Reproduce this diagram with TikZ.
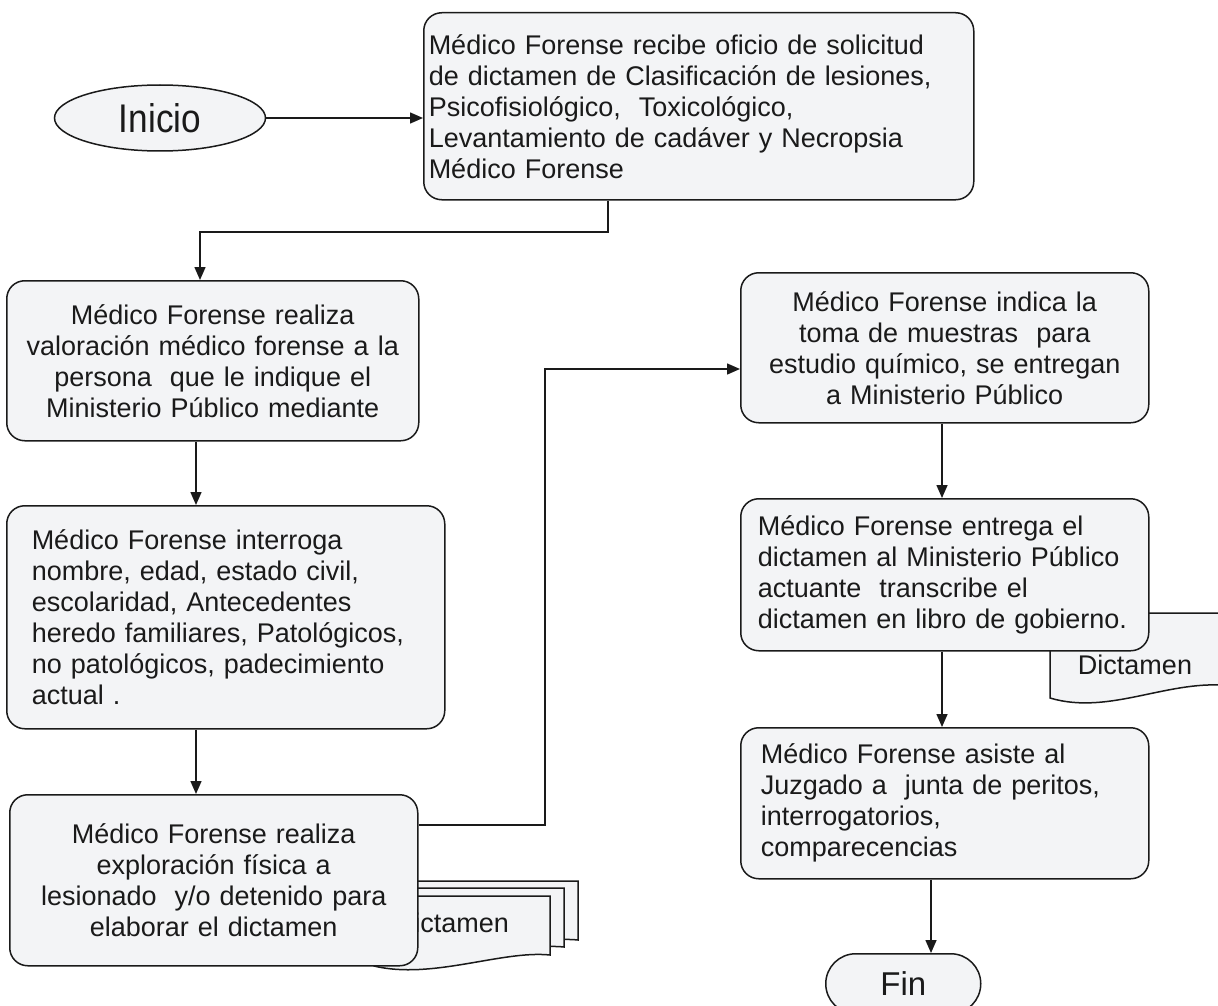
\documentclass[tikz,border=0pt]{standalone}
\usepackage{fontspec}
\usepackage{graphicx}
\setmainfont{Liberation Sans}
\usetikzlibrary{arrows.meta,shapes.geometric,calc}
\definecolor{boxfill}{HTML}{F3F4F6}
\definecolor{ink}{HTML}{1A1A1A}
\begin{document}
\begin{tikzpicture}[x=1pt,y=-1pt,
  every node/.style={font=\fontsize{27}{31}\selectfont, text=ink},
  procbox/.style={draw=ink, line width=1.5pt, fill=boxfill, rounded corners=18pt,
    anchor=north west, inner ysep=0pt},
  docshape/.style={draw=ink, line width=1.5pt, fill=boxfill},
  arr/.style={draw=ink, line width=1.5pt, -{Triangle[length=13pt,width=11pt]}}]
\fill[white] (0,0) rectangle (1218,1006);
\useasboundingbox (0,0) rectangle (1218,1006);

% documents drawn first (behind boxes)
\draw[docshape] (402,881) -- (578,881) -- (578,940) .. controls (530,935) and (460,965) .. (402,951) -- cycle;
\draw[docshape] (388,888) -- (564,888) -- (564,947) .. controls (516,942) and (446,972) .. (388,958) -- cycle;
\draw[docshape] (374,896) -- (550,896) -- (550,955) .. controls (502,950) and (432,980) .. (374,966) -- cycle;
\node (dictA) at (452,923) {Dictamen};

\draw[docshape] (1050,613) -- (1232,613) -- (1232,686) .. controls (1170,678) and (1110,716) .. (1050,698) -- cycle;
\node (dictB) at (1135,665) {Dictamen};

% start / end
\node[ellipse, draw=ink, line width=1.5pt, fill=boxfill, minimum width=211pt, minimum height=66pt, inner sep=0pt,
  font=\fontsize{40}{44}\selectfont] (ini) at (160,118) {\scalebox{0.88}[1]{Inicio}};

\node[procbox, minimum width=550pt, minimum height=187pt, inner xsep=5pt, text width=540pt, align=left] (b1) at (423,12)
  {Médico Forense recibe oficio de solicitud\\
   de dictamen de Clasificación de lesiones,\\
   Psicofisiológico,\ \ Toxicológico,\\
   Levantamiento de cadáver y Necropsia\\
   Médico Forense};

\node[procbox, minimum width=412pt, minimum height=160pt, inner xsep=16pt, text width=380pt, align=center] (b2) at (6,280)
  {Médico Forense realiza\\
   valoración médico forense a la\\
   persona\ \ que le indique el\\
   Ministerio Público mediante};

\node[procbox, minimum width=438pt, minimum height=223pt, inner xsep=25pt, text width=388pt, align=left] (b3) at (6,505)
  {Médico Forense interroga\\
   nombre, edad, estado civil,\\
   escolaridad, Antecedentes\\
   heredo familiares, Patológicos,\\
   no patológicos, padecimiento\\
   actual .};

\node[procbox, minimum width=408pt, minimum height=171pt, inner xsep=16pt, text width=376pt, align=center] (b4) at (9,794)
  {Médico Forense realiza\\
   exploración física a\\
   lesionado\ \ y/o detenido para\\
   elaborar el dictamen};

\node[procbox, minimum width=408pt, minimum height=150pt, inner xsep=16pt, text width=376pt, align=center] (b5) at (740,272)
  {Médico Forense indica la\\
   toma de muestras\ \ para\\
   estudio químico, se entregan\\
   a Ministerio Público};

\node[procbox, minimum width=408pt, minimum height=152pt, inner xsep=17pt, text width=374pt, align=left] (b6) at (740,498)
  {Médico Forense entrega el\\
   dictamen al Ministerio Público\\
   actuante\ \ transcribe el\\
   dictamen en libro de gobierno.};

\node[procbox, minimum width=408pt, minimum height=151pt, inner xsep=20pt, text width=368pt, align=left] (b7) at (740,727)
  {Médico Forense asiste al\\
   Juzgado a\ \ junta de peritos,\\
   interrogatorios,\\
   comparecencias};

\node[draw=ink, line width=1.5pt, fill=boxfill, rounded corners=30pt, minimum width=155pt, minimum height=60pt,
  anchor=north west, inner sep=0pt, font=\fontsize{33}{36}\selectfont] (fin) at (825,953) {Fin};

% connector coordinates
\coordinate (k1) at (608,232);
\coordinate (k2) at (200,232);
\coordinate (k3) at (196,0);
\coordinate (k4) at (545,825);
\coordinate (k5) at (0,369);
\coordinate (k6) at (942,0);
\coordinate (k7) at (931,0);

% connectors
\draw[arr] (ini.east) -- (ini.east -| b1.west);
\draw[arr] (b1.south -| k1) -- (k1) -- (k2) -- (k2 |- b2.north);
\draw[arr] (b2.south -| k3) -- (b3.north -| k3);
\draw[arr] (b3.south -| k3) -- (b4.north -| k3);
\draw[arr] (b4.east |- k4) -- (k4) |- (b5.west |- k5);
\draw[arr] (b5.south -| k6) -- (b6.north -| k6);
\draw[arr] (b6.south -| k6) -- (b7.north -| k6);
\draw[arr] (b7.south -| k7) -- (fin.north -| k7);
\end{tikzpicture}
\end{document}
